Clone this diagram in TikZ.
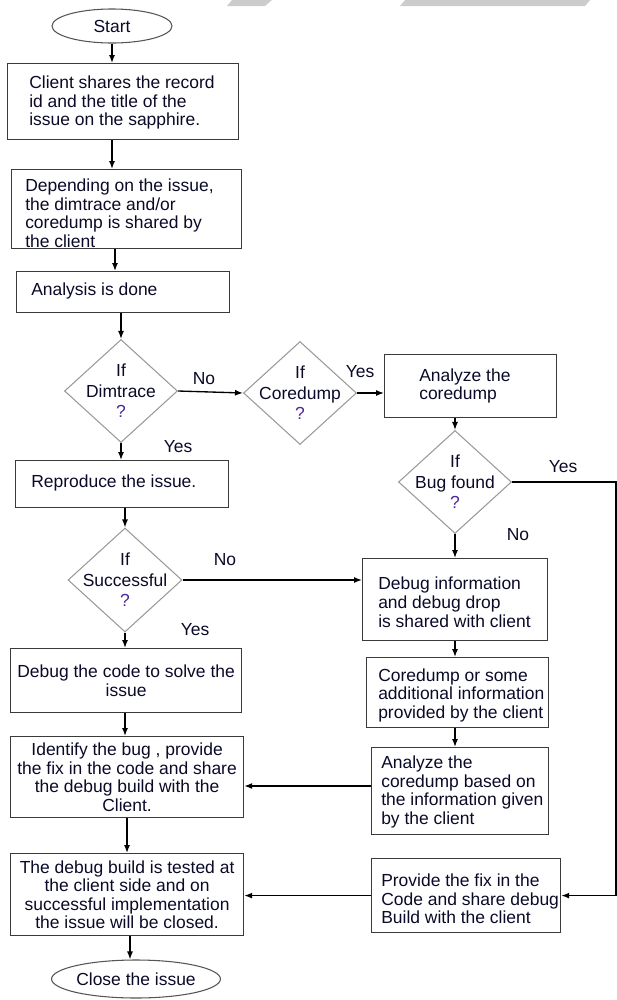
\documentclass[tikz,border=0pt]{standalone}
\usepackage{fontspec}
\setmainfont{Liberation Sans}
\usetikzlibrary{shapes.geometric,arrows.meta}
\definecolor{txtcol}{HTML}{0A0A28}
\definecolor{qcol}{HTML}{4A2896}
\definecolor{boxcol}{HTML}{3A3A3A}
\definecolor{diacol}{HTML}{9A9A9A}
\definecolor{ellcol}{HTML}{555555}
\definecolor{wmcol}{HTML}{CCCCCC}
\newcommand\qm{\textcolor{qcol}{?}}
\newcommand\fsz{\fontsize{13.1pt}{13.9pt}\selectfont}
\newcommand\dsz{\fontsize{13.1pt}{15.3pt}\selectfont}
\begin{document}
\begin{tikzpicture}[x=0.75pt,y=-0.75pt,
 box/.style={draw=boxcol, line width=0.9pt, rectangle, inner sep=0pt, anchor=north west, font=\fsz, text=txtcol, align=center},
 txt/.style={inner sep=0pt, anchor=west, align=left, font=\fsz, text=txtcol},
 dia/.style={draw=diacol, line width=0.8pt, diamond, inner sep=0pt, minimum width=113*0.75pt, minimum height=103*0.75pt},
 dtxt/.style={inner sep=0pt, align=center, font=\dsz, text=txtcol},
 term/.style={draw=ellcol, line width=0.8pt, ellipse, inner sep=0pt, font=\fsz, text=txtcol},
 arr/.style={draw=black, line width=1pt, -{Latex[length=6pt,width=4.5pt]}},
 lab/.style={font=\fsz, text=txtcol, inner sep=0pt}]
\useasboundingbox (0,0) rectangle (617,1000);
% watermark fragments
\fill[wmcol] (227,6) -- (265,6) -- (272,0) -- (232,0) -- cycle;
\fill[wmcol] (400,6) -- (585,6) -- (590,0) -- (405,0) -- cycle;

\coordinate (cB) at (115,0);
\coordinate (cE) at (127,0);
\coordinate (cF) at (130,0);
\coordinate (cR) at (616,0);
\coordinate (cY) at (0,786);

% left column
\node[term, minimum width=120*0.75pt, minimum height=34*0.75pt] (start) at (112,26) {Start};
\node[box, minimum width=231*0.75pt, minimum height=76*0.75pt] (b1) at (7,63) {};
\node[txt] (t1) at ([xshift=22*0.75pt, yshift=-1pt]b1.west) {Client shares the record\\id and the title of the\\issue on the sapphire.};
\node[box, minimum width=230*0.75pt, minimum height=79*0.75pt] (b2) at (11,169) {};
\node[txt] (t2) at ([xshift=14*0.75pt, yshift=-3pt]b2.west) {Depending on the issue,\\the dimtrace and/or\\coredump is shared by\\the client};
\node[box, minimum width=213*0.75pt, minimum height=41*0.75pt] (b3) at (16,271) {};
\node[txt] (t3) at ([xshift=15*0.75pt, yshift=1pt]b3.west) {Analysis is done};
\node[dia, label={[dtxt]center:{If\\Dimtrace\\\qm}}] (d1) at (121,391) {};
\node[box, minimum width=213*0.75pt, minimum height=47*0.75pt] (rep) at (15,460) {};
\node[txt] (t5) at ([xshift=16*0.75pt, yshift=1pt]rep.west) {Reproduce the issue.};
\node[dia, minimum width=114*0.75pt, minimum height=104*0.75pt, label={[dtxt]center:{If\\Successful\\\qm}}] (d4) at (125,580) {};
\node[box, minimum width=231*0.75pt, minimum height=64*0.75pt] (dbg) at (10,648) {Debug the code to solve the\\issue};
\node[box, minimum width=233*0.75pt, minimum height=81*0.75pt] (ident) at (10,736) {Identify the bug , provide\\the fix in the code and share\\the debug build with the\\Client.};
\node[box, minimum width=233*0.75pt, minimum height=82*0.75pt] (test) at (10,853) {The debug build is tested at\\the client side and on\\successful implementation\\the issue will be closed.};
\node[term, minimum width=164*0.75pt, minimum height=38*0.75pt] (close) at (136,979) {Close the issue};

% right part
\node[dia, label={[dtxt]center:{If\\Coredump\\\qm}}] (d2) at (300,393) {};
\node[box, minimum width=172*0.75pt, minimum height=63*0.75pt] (b4) at (384,354) {};
\node[txt] (t4) at ([xshift=35*0.75pt]b4.west) {Analyze the\\coredump};
\node[dia, label={[dtxt]center:{If\\Bug found\\\qm}}] (d3) at (455,482) {};
\node[box, minimum width=185*0.75pt, minimum height=82*0.75pt] (b5) at (362,558) {};
\node[txt] (t6) at ([xshift=16*0.75pt, yshift=-2pt]b5.west) {Debug information\\and debug drop\\is shared with client};
\node[box, minimum width=182*0.75pt, minimum height=70*0.75pt] (b6) at (366,657) {};
\node[txt] (t7) at ([xshift=12*0.75pt, yshift=-2pt]b6.west) {Coredump or some\\additional information\\provided by the client};
\node[box, minimum width=177*0.75pt, minimum height=87*0.75pt] (b7) at (371,747) {};
\node[txt] (t8) at ([xshift=10*0.75pt, yshift=-0.5pt]b7.west) {Analyze the\\coredump based on\\the information given\\by the client};
\node[box, minimum width=189*0.75pt, minimum height=74*0.75pt] (b8) at (371,858) {};
\node[txt] (t9) at ([xshift=10*0.75pt, yshift=-2.5pt]b8.west) {Provide the fix in the\\Code and share debug\\Build with the client};

% connectors
\draw[arr] (start.south) -- (start.south |- b1.north);
\draw[arr] (b1.south -| start.south) -- (b2.north -| start.south);
\draw[arr] (b2.south -| cB) -- (b3.north -| cB);
\draw[arr] (b3.south -| d1.north) -- (d1.north);
\draw[arr] (d1.south) -- (d1.south |- rep.north);
\draw[arr] (rep.south -| d4.north) -- (d4.north);
\draw[arr] (d4.south) -- (d4.south |- dbg.north);
\draw[arr] (dbg.south -| d4.south) -- (ident.north -| d4.south);
\draw[arr] (ident.south -| cE) -- (test.north -| cE);
\draw[arr] (test.south -| cF) -- (close.north -| cF);
\draw[arr] (d1.east) -- (d2.west);
\draw[arr] (d2.east) -- (d2.east -| b4.west);
\draw[arr] (b4.south -| d3.north) -- (d3.north);
\draw[arr] (d3.south) -- (d3.south |- b5.north);
\draw[arr] (d4.east) -- (d4.east -| b5.west);
\draw[arr] (b5.south -| d3.south) -- (b6.north -| d3.south);
\draw[arr] (b6.south -| d3.south) -- (b7.north -| d3.south);
\draw[arr] (b7.west |- cY) -- (ident.east |- cY);
\draw[arr] (b8.west) -- (test.east |- b8.west);
\draw[arr] (d3.east) -- (cR |- d3.east) -- (cR |- b8.east) -- (b8.east);

% branch labels
\node[lab] (lNo1) at (204,379) {No};
\node[lab] (lYes1) at (360,372) {Yes};
\node[lab] (lYes2) at (178,447) {Yes};
\node[lab] (lYes3) at (563,467) {Yes};
\node[lab] (lNo2) at (518,535) {No};
\node[lab] (lNo3) at (225,560) {No};
\node[lab] (lYes4) at (195,630) {Yes};
\end{tikzpicture}
\end{document}
